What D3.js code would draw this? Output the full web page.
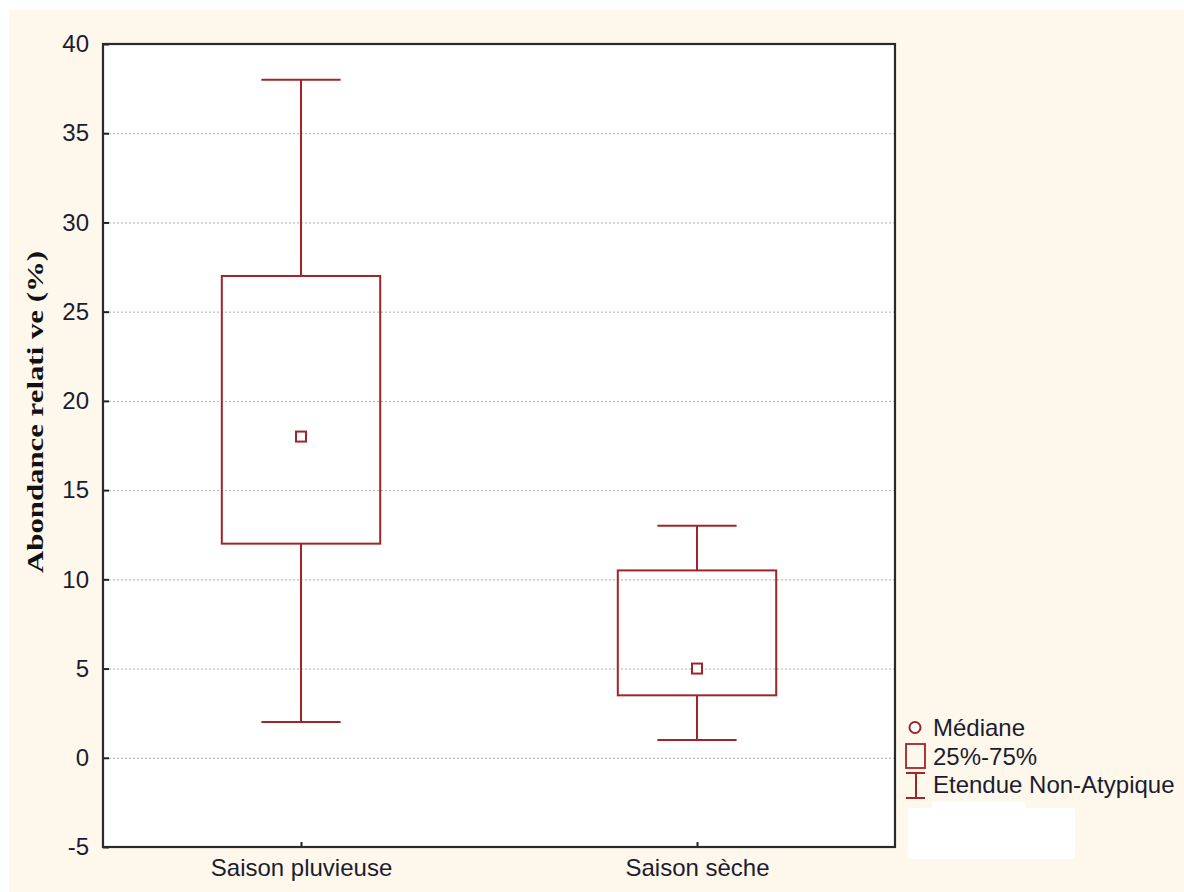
<!DOCTYPE html>
<html>
<head>
<meta charset="utf-8">
<script src="https://cdn.jsdelivr.net/npm/d3@7"></script>
<style>
  html, body { margin: 0; padding: 0; background: #ffffff; }
  svg { display: block; }
</style>
</head>
<body>
<svg id="chart" width="1184" height="892"></svg>
<script>
// Box plot data: relative abundance per season
const categories = ["Saison pluvieuse", "Saison sèche"];
const medians    = [18, 5];
const q1Values   = [12, 3.5];
const q3Values   = [27, 10.5];
const minValues  = [2, 1];
const maxValues  = [38, 13];
const yTicks     = [-5, 0, 5, 10, 15, 20, 25, 30, 35, 40];
const legendLabels = ["Médiane", "25%-75%", "Etendue Non-Atypique"];

const boxColor = "#a0242a";
const textColor = "#1c1c30";
const sansFont = "Liberation Sans, Arial, sans-serif";

const svg = d3.select("#chart");

// page background
svg.append("rect").attr("x", 9).attr("y", 10).attr("width", 1175).attr("height", 882)
  .attr("fill", "#fef8ec");

const plot = { left: 103, top: 44, right: 895, bottom: 847 };

const y = d3.scaleLinear().domain([-5, 40]).range([plot.bottom, plot.top]);
const x = d3.scalePoint().domain(categories).range([plot.left, plot.right]).padding(0.5);
const step = x.step();

// plot area
svg.append("rect")
  .attr("x", plot.left).attr("y", plot.top)
  .attr("width", plot.right - plot.left).attr("height", plot.bottom - plot.top)
  .attr("fill", "#ffffff");

// dotted grid
svg.append("g").selectAll("line")
  .data(yTicks.filter(t => t > -5 && t < 40))
  .join("line")
  .attr("x1", plot.left + 6).attr("x2", plot.right - 1)
  .attr("y1", d => y(d) + 0.5).attr("y2", d => y(d) + 0.5)
  .attr("stroke", "#b0b0b0").attr("stroke-width", 1)
  .attr("stroke-dasharray", "2,2");

// y axis
const yAxis = d3.axisLeft(y).tickValues(yTicks).tickSize(-6).tickPadding(14)
  .tickFormat(d => String(d));
const gy = svg.append("g").attr("transform", `translate(${plot.left},0)`).call(yAxis);
gy.select(".domain").remove();
gy.selectAll(".tick line").attr("stroke", "#222").attr("stroke-width", 2);
gy.selectAll(".tick text")
  .attr("font-family", sansFont)
  .attr("font-size", 24).attr("fill", textColor);

// x axis
const xAxis = d3.axisBottom(x).tickSize(-5).tickPadding(12);
const gx = svg.append("g").attr("transform", `translate(0,${plot.bottom})`).call(xAxis);
gx.select(".domain").remove();
gx.selectAll(".tick line").attr("stroke", "#222").attr("stroke-width", 2);
gx.selectAll(".tick text")
  .attr("font-family", sansFont)
  .attr("font-size", 24).attr("fill", textColor);

// frame
svg.append("rect")
  .attr("x", plot.left).attr("y", plot.top)
  .attr("width", plot.right - plot.left).attr("height", plot.bottom - plot.top)
  .attr("fill", "none").attr("stroke", "#2a2a2a").attr("stroke-width", 2.2);

// boxes
const data = categories.map((c, i) => ({
  cat: c, med: medians[i], q1: q1Values[i], q3: q3Values[i], lo: minValues[i], hi: maxValues[i]
}));
const bw = step * 0.4;
const capW = step * 0.2;
const g = svg.append("g").attr("stroke", boxColor).attr("stroke-width", 2).attr("fill", "none");

data.forEach(d => {
  const cx = x(d.cat);
  // whiskers
  g.append("line").attr("x1", cx).attr("x2", cx).attr("y1", y(d.hi)).attr("y2", y(d.q3));
  g.append("line").attr("x1", cx).attr("x2", cx).attr("y1", y(d.q1)).attr("y2", y(d.lo));
  g.append("line").attr("x1", cx - capW / 2).attr("x2", cx + capW / 2).attr("y1", y(d.hi)).attr("y2", y(d.hi));
  g.append("line").attr("x1", cx - capW / 2).attr("x2", cx + capW / 2).attr("y1", y(d.lo)).attr("y2", y(d.lo));
  // box
  g.append("rect").attr("x", cx - bw / 2).attr("y", y(d.q3))
    .attr("width", bw).attr("height", y(d.q1) - y(d.q3));
  // median marker
  g.append("rect").attr("x", cx - 5).attr("y", y(d.med) - 5)
    .attr("width", 10).attr("height", 10).attr("fill", "#ffffff");
});

// y axis title
svg.append("text")
  .attr("transform", `translate(43,412) rotate(-90)`)
  .attr("text-anchor", "middle")
  .attr("font-family", "Liberation Serif, Times New Roman, serif")
  .attr("font-weight", "bold").attr("font-size", 24).attr("fill", "#111")
  .attr("textLength", 322).attr("lengthAdjust", "spacingAndGlyphs")
  .text("Abondance relati ve (%)");

// legend
const lg = svg.append("g");
lg.append("circle").attr("cx", 915).attr("cy", 727.5).attr("r", 5.5)
  .attr("fill", "#fff").attr("stroke", boxColor).attr("stroke-width", 2);
lg.append("rect").attr("x", 906).attr("y", 744).attr("width", 19).attr("height", 24)
  .attr("fill", "none").attr("stroke", boxColor).attr("stroke-width", 1.8);
lg.append("line").attr("x1", 906).attr("x2", 925).attr("y1", 773).attr("y2", 773)
  .attr("stroke", boxColor).attr("stroke-width", 2);
lg.append("line").attr("x1", 906).attr("x2", 925).attr("y1", 798).attr("y2", 798)
  .attr("stroke", boxColor).attr("stroke-width", 2);
lg.append("line").attr("x1", 916).attr("x2", 916).attr("y1", 773).attr("y2", 798)
  .attr("stroke", boxColor).attr("stroke-width", 2);
lg.selectAll("text").data(legendLabels).join("text")
  .attr("x", 933).attr("y", (d, i) => 736 + i * 28.5)
  .attr("font-family", sansFont)
  .attr("font-size", 24).attr("fill", textColor)
  .text(d => d);

// blank patch below the legend
lg.append("rect").attr("x", 908).attr("y", 808).attr("width", 167).attr("height", 51).attr("fill", "#ffffff");
lg.append("rect").attr("x", 932).attr("y", 802).attr("width", 93).attr("height", 7).attr("fill", "#ffffff");
</script>
</body>
</html>
